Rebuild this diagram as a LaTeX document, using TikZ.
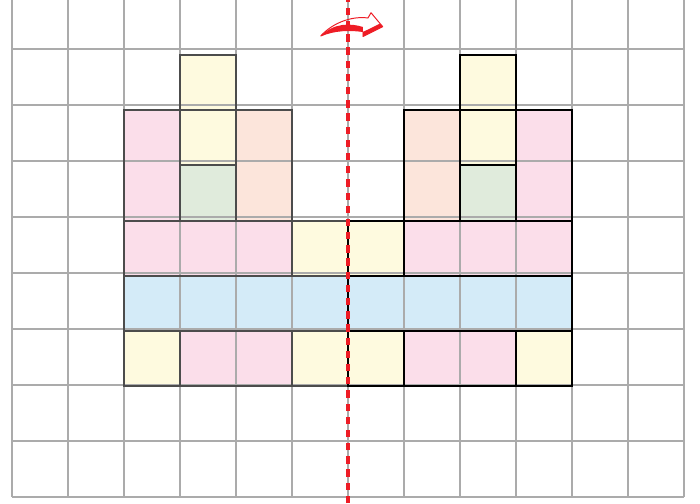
\documentclass[tikz,border=0pt]{standalone}
\usepackage{tikz}
\definecolor{pinkc}{HTML}{FBDEEA}
\definecolor{yellowc}{HTML}{FEFADF}
\definecolor{peachc}{HTML}{FCE5DB}
\definecolor{greenc}{HTML}{E0EBDC}
\definecolor{bluec}{HTML}{D4EBF8}
\definecolor{gridc}{HTML}{ABABAB}
\definecolor{redc}{HTML}{EE1C25}

\begin{document}
\begin{tikzpicture}[x=1cm,y=0.9875cm,
  piece/.style={line width=1pt},
  axis/.style={redc,line width=1.6pt,dash pattern=on 3.7pt off 3pt}]
  \useasboundingbox (-0.214,-0.108) rectangle (12.286,8.988);
  % left half, the right half is its mirror image
  \foreach \a/\b/\c/\d/\col in {2/5/3/7/pinkc,3/7/4/8/yellowc,3/6/4/7/yellowc,3/5/4/6/greenc,
      4/5/5/7/peachc,2/4/5/5/pinkc,5/4/6/5/yellowc,2/3/6/4/bluec,2/2/3/3/yellowc,
      3/2/5/3/pinkc,5/2/6/3/yellowc}
  {
    \fill[\col] (\a,\b) rectangle (\c,\d);
    \fill[\col] (12-\c,\b) rectangle (12-\a,\d);
  }
  \draw[gridc,line width=0.75pt] (0,0) grid (12,9);
  \foreach \a/\b/\c/\d in {2/5/3/7,3/7/4/8,3/6/4/7,3/5/4/6,4/5/5/7,2/4/5/5,5/4/6/5,
      2/3/6/4,2/2/3/3,3/2/5/3,5/2/6/3}
  {
    \draw[piece,black!70] (\a,\b) rectangle (\c,\d);
    \draw[piece,black] (12-\c,\b) rectangle (12-\a,\d);
  }
  \draw[axis] (6,-0.11) -- (6,9);
  % turn-over arrow
  \draw[redc,line width=0.5pt,line join=round] (5.512,8.336) .. controls (5.75,8.6) and (6.1,8.7) .. (6.357,8.662)
    -- (6.411,8.758) -- (6.62,8.505) -- (6.268,8.327) -- (6.268,8.418)
    .. controls (6.05,8.45) and (5.75,8.45) .. (5.512,8.336);
  \fill[redc] (5.512,8.336) .. controls (5.75,8.58) and (6.05,8.57) .. (6.268,8.50)
    -- (6.268,8.418) .. controls (6.05,8.45) and (5.75,8.45) .. cycle;
  \fill[redc] (6.62,8.505) -- (6.268,8.327) -- (6.268,8.41) -- (6.57,8.56) -- cycle;
\end{tikzpicture}
\end{document}
